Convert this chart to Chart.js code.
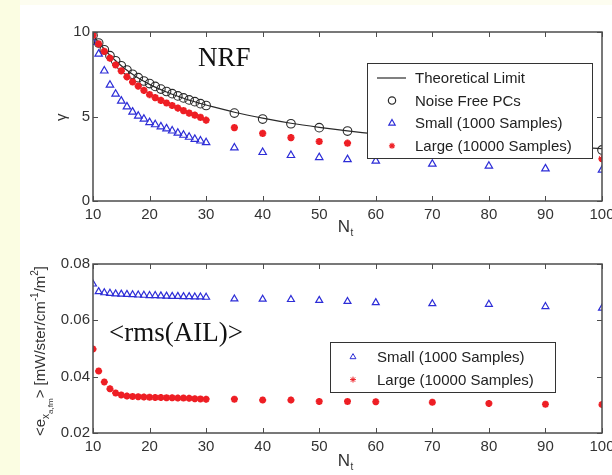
<!DOCTYPE html>
<html>
<head>
<meta charset="utf-8">
<script src="https://cdn.jsdelivr.net/npm/chart.js@4.4.1/dist/chart.umd.min.js"></script>
<style>
  html, body { margin: 0; padding: 0; background: #fff; overflow: hidden; width: 612px; height: 475px; }
  #strip { position: absolute; left: 0; top: 0; width: 20px; height: 475px; background: #fbfde2; }
  #topstrip { position: absolute; left: 0; top: 0; width: 612px; height: 5px; background: #fdfdf0; }
  canvas { position: absolute; left: 0; }
  #top { top: 0; }
  #bot { top: 237px; }
</style>
</head>
<body>
<div id="topstrip"></div>
<div id="strip"></div>
<canvas id="top" width="625" height="237"></canvas>
<canvas id="bot" width="625" height="238"></canvas>
<script>
/* ============ Data ============ */
const NT = [10, 11, 12, 13, 14, 15, 16, 17, 18, 19, 20, 21, 22, 23, 24, 25, 26, 27, 28, 29, 30,
            35, 40, 45, 50, 55, 60, 70, 80, 90, 100];

// top panel: gamma vs N_t
const theoryLimit = [9.8, 9.38, 8.98, 8.62, 8.3, 8.0, 7.74, 7.5, 7.28, 7.08, 6.9, 6.74, 6.59, 6.45, 6.32, 6.2, 6.08, 5.97, 5.87, 5.77, 5.68,
                     5.25, 4.9, 4.6, 4.36, 4.15, 3.97, 3.68, 3.45, 3.26, 3.1];
const noiseFree = [9.8, 9.35, 8.95, 8.6, 8.3, 8.0, 7.75, 7.5, 7.3, 7.1, 6.95, 6.78, 6.62, 6.48, 6.35, 6.22, 6.1, 5.98, 5.88, 5.76, 5.65,
                   5.2, 4.85, 4.57, 4.34, 4.14, 3.97, 3.7, 3.45, 3.25, 3.02];
const smallGamma = [9.4, 8.7, 7.7, 6.86, 6.33, 5.92, 5.58, 5.27, 5.03, 4.85, 4.65, 4.52, 4.4, 4.28, 4.15, 4.02, 3.9, 3.78, 3.66, 3.56, 3.46,
                    3.15, 2.88, 2.7, 2.58, 2.46, 2.37, 2.19, 2.07, 1.91, 1.83];
const largeGamma = [9.8, 9.3, 8.85, 8.45, 8.05, 7.7, 7.35, 7.05, 6.8, 6.55, 6.3, 6.12, 5.95, 5.8, 5.65, 5.5, 5.35, 5.2, 5.08, 4.95, 4.78,
                    4.34, 4.0, 3.75, 3.52, 3.42, 3.25, 3.05, 2.88, 2.72, 2.5];

// bottom panel: <rms(AIL)>
const smallRms = [0.0729, 0.0702, 0.0698, 0.0696, 0.0694, 0.0693, 0.0692, 0.0691, 0.0690, 0.0689, 0.0688, 0.0688, 0.0687, 0.0686, 0.0685,
                  0.0685, 0.0684, 0.0684, 0.0683, 0.0683, 0.0682, 0.0676, 0.0675, 0.0674, 0.0671, 0.0667, 0.0663, 0.0659, 0.0657, 0.0649, 0.0643];
const largeRms = [0.0498, 0.0420, 0.0381, 0.0357, 0.0342, 0.0335, 0.0331, 0.0330, 0.0329, 0.0328, 0.0327, 0.0326, 0.0326, 0.0325, 0.0325,
                  0.0324, 0.0324, 0.0323, 0.0322, 0.0321, 0.0320, 0.0320, 0.0317, 0.0317, 0.0312, 0.0312, 0.0311, 0.0309, 0.0305, 0.0302, 0.0301];

// ticks
const xTicks = [10, 20, 30, 40, 50, 60, 70, 80, 90, 100];
const yTicksTop = [0, 5, 10];
const yTicksBot = [0.02, 0.04, 0.06, 0.08];

/* ============ Style ============ */
const RED = "rgb(238,30,36)";
const BLUE = "rgb(45,45,215)";
const BLACK = "#2a2a2a";
const AXIS = "#4c4c4c";

const SANS = '"Liberation Sans", Arial, sans-serif';
const FS = 15;

Chart.defaults.font.family = SANS;
Chart.defaults.font.size = FS;
Chart.defaults.color = "#333";

const pts = ys => NT.map((x, i) => ({x, y: ys[i]}));

/* ============ Frame / legend / labels plugin ============ */
const framePlugin = {
    id: "frame",
    afterDatasetsDraw(chart, args, o) {
        const {ctx, chartArea: a, scales: {x, y}} = chart;
        ctx.save();
        // box
        ctx.strokeStyle = AXIS;
        ctx.lineWidth = 1.5;
        ctx.strokeRect(a.left, a.top, a.right - a.left, a.bottom - a.top);
        // inward ticks on all four sides
        const TL = 5;
        ctx.beginPath();
        for (const t of x.ticks) {
            const px = Math.round(x.getPixelForValue(t.value)) + 0.5;
            ctx.moveTo(px, a.bottom); ctx.lineTo(px, a.bottom - TL);
            ctx.moveTo(px, a.top); ctx.lineTo(px, a.top + TL);
        }
        for (const t of y.ticks) {
            const py = Math.round(y.getPixelForValue(t.value)) + 0.5;
            ctx.moveTo(a.left, py); ctx.lineTo(a.left + TL, py);
            ctx.moveTo(a.right, py); ctx.lineTo(a.right - TL, py);
        }
        ctx.lineWidth = 1;
        ctx.stroke();

        // legend box
        const L = o.legend;
        ctx.fillStyle = "#fff";
        ctx.fillRect(L.x, L.y, L.w, L.h);
        ctx.strokeStyle = "#333";
        ctx.lineWidth = 1;
        ctx.strokeRect(L.x + 0.5, L.y + 0.5, L.w, L.h);
        ctx.font = `${FS}px ${SANS}`;
        ctx.textBaseline = "middle";
        ctx.textAlign = "left";
        L.items.forEach((it, i) => {
            const cy = L.y + L.first + i * L.step;
            const ds = chart.data.datasets[it.ds];
            if (it.kind === "line") {
                ctx.strokeStyle = ds.borderColor;
                ctx.lineWidth = 1.2;
                ctx.beginPath();
                ctx.moveTo(L.x + 10, cy); ctx.lineTo(L.x + 39, cy);
                ctx.stroke();
            } else {
                ctx.strokeStyle = ds.pointBorderColor;
                ctx.fillStyle = ds.pointBackgroundColor;
                Chart.helpers.drawPoint(ctx, {
                    pointStyle: ds.pointStyle, radius: ds.pointRadius * 0.85,
                    rotation: 0, borderWidth: ds.pointBorderWidth
                }, L.x + L.mark, cy);
            }
            ctx.fillStyle = "#222";
            ctx.fillText(it.text, L.x + L.text, cy + 1);
        });

        // big serif annotation
        ctx.fillStyle = "#111";
        ctx.font = '27px "Liberation Serif", "Times New Roman", serif';
        ctx.textBaseline = "alphabetic";
        ctx.fillText(o.note.text, o.note.x, o.note.y);

        // x title N_t
        ctx.fillStyle = "#333";
        ctx.font = `${FS + 2}px ${SANS}`;
        ctx.textAlign = "center";
        ctx.fillText("N", o.xTitle.x, o.xTitle.y);
        ctx.font = `${FS - 5}px ${SANS}`;
        ctx.fillText("t", o.xTitle.x + 8, o.xTitle.y + 4);

        // y title
        ctx.translate(o.yTitle.x, o.yTitle.y);
        ctx.rotate(-Math.PI / 2);
        ctx.textAlign = "left";
        let cx = 0;
        for (const [txt, size, dy] of o.yTitle.parts) {
            ctx.font = `${size}px ${SANS}`;
            ctx.fillText(txt, cx, dy);
            cx += ctx.measureText(txt).width;
        }
        ctx.restore();
    }
};

/* ============ Chart builder ============ */
function makeChart(id, datasets, cfg) {
    return new Chart(document.getElementById(id), {
        type: "line",
        data: {datasets},
        options: {
            responsive: false,
            animation: false,
            layout: {padding: {left: 0, top: cfg.padTop, right: 23, bottom: 0}},
            plugins: {legend: {display: false}, tooltip: {enabled: false}, frame: cfg.frame},
            scales: {
                x: {
                    type: "linear", min: 10, max: 100,
                    grid: {display: false, drawTicks: false, tickLength: 0}, border: {display: false},
                    afterBuildTicks: s => { s.ticks = xTicks.map(v => ({value: v})); },
                    afterFit: s => { s.height = cfg.xHeight; },
                    ticks: {padding: 5, maxRotation: 0, autoSkip: false}
                },
                y: {
                    type: "linear", min: cfg.yTicks[0], max: cfg.yTicks[cfg.yTicks.length - 1],
                    grid: {display: false, drawTicks: false, tickLength: 0}, border: {display: false},
                    afterBuildTicks: s => { s.ticks = cfg.yTicks.map(v => ({value: v})); },
                    afterFit: s => { s.width = 93; },
                    ticks: {padding: 3, callback: cfg.yFmt}
                }
            }
        },
        plugins: [framePlugin]
    });
}

const marker = (data, style, color, r, bw, order) => ({
    data, showLine: false, order,
    pointStyle: style, pointRadius: r, pointBorderWidth: bw,
    pointBorderColor: color, pointBackgroundColor: style === "star" ? color : "rgba(0,0,0,0)",
    borderColor: color
});

makeChart("top", [
    {data: pts(theoryLimit), borderColor: BLACK, borderWidth: 1.2, pointRadius: 0, order: 3, cubicInterpolationMode: "monotone"},
    marker(pts(noiseFree), "circle", BLACK, 4.3, 1.1, 2),
    marker(pts(smallGamma), "triangle", BLUE, 4.3, 1.2, 1),
    marker(pts(largeGamma), "star", RED, 3.6, 2.2, 0)
], {
    padTop: 32, xHeight: 36, yTicks: yTicksTop, yFmt: v => String(v),
    frame: {
        legend: {x: 367, y: 63, w: 225, h: 95, first: 15, step: 22.6, mark: 25, text: 48,
            items: [
                {ds: 0, kind: "line", text: "Theoretical Limit"},
                {ds: 1, kind: "mark", text: "Noise Free PCs"},
                {ds: 2, kind: "mark", text: "Small (1000 Samples)"},
                {ds: 3, kind: "mark", text: "Large (10000 Samples)"}
            ]},
        note: {text: "NRF", x: 198, y: 66},
        xTitle: {x: 344, y: 232},
        yTitle: {x: 66, y: 121, parts: [["γ", FS, 0]]}
    }
});

makeChart("bot", [
    marker(pts(smallRms), "triangle", BLUE, 4, 1.2, 1),
    marker(pts(largeRms), "star", RED, 3.5, 2.2, 0)
], {
    padTop: 27, xHeight: 42, yTicks: yTicksBot, yFmt: v => v.toFixed(2),
    frame: {
        legend: {x: 330, y: 105, w: 225, h: 50, first: 15, step: 22.6, mark: 23, text: 47,
            items: [
                {ds: 0, kind: "mark", text: "Small (1000 Samples)"},
                {ds: 1, kind: "mark", text: "Large (10000 Samples)"}
            ]},
        note: {text: "<rms(AIL)>", x: 109, y: 104},
        xTitle: {x: 344, y: 229},
        yTitle: {x: 45, y: 199, parts: [
            ["<e", 15, 0], ["x", 10, 4], ["a,fm", 8, 8], ["> [mW/ster/cm", 15, 0],
            ["-1", 10, -7], ["/m", 15, 0], ["2", 10, -7], ["]", 15, 0]
        ]}
    }
});
</script>
</body>
</html>
